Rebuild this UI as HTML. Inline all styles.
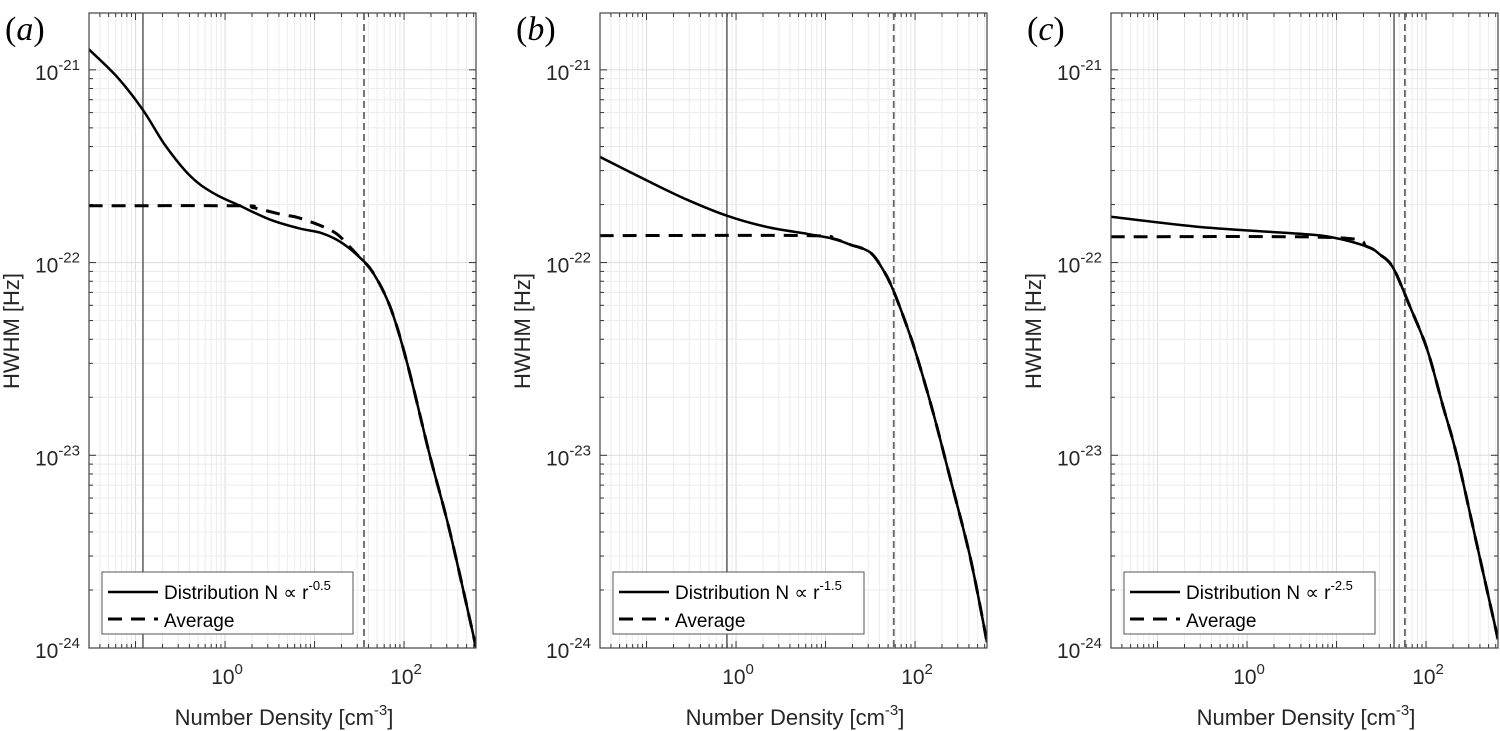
<!DOCTYPE html>
<html><head><meta charset="utf-8">
<style>
html,body{margin:0;padding:0;background:#fff;}
svg{display:block;font-family:"Liberation Sans",Arial,sans-serif;}
</style></head>
<body>
<svg id="fig" width="1500" height="731" viewBox="0 0 1500 731" xmlns="http://www.w3.org/2000/svg"></svg>
<script>
// ---- data (x: number density cm^-3, y: HWHM in units of 1e-22 Hz) ----
const panelLabels = ["(a)", "(b)", "(c)"];
const exponents = ["-0.5", "-1.5", "-2.5"];
const solidVLines = [0.121, 0.79, 43.9];
const dashedVLines = [35.7, 57.8, 58];
const xTickExps = [0, 2];
const yTickExps = [-21, -22, -23, -24];

const aSolidX = [0.030,0.062,0.121,0.213,0.406,0.733,1.47,3.18,6.88,11.5,19.2,32.2,45,69.7,108,195,326,637];
const aSolidY = [12.8,9.2,6.2,4.08,2.82,2.30,1.97,1.67,1.50,1.43,1.285,1.06,0.887,0.592,0.303,0.0989,0.0399,0.0101];
const aAvgX = [0.030,1.47,2.05,4.45,6.88,16.1,25,32.2,45,69.7,108,195,326,637];
const aAvgY = [1.97,1.97,1.93,1.77,1.70,1.45,1.20,1.06,0.887,0.592,0.303,0.0989,0.0399,0.0101];

const bSolidX = [0.030,0.109,0.283,0.79,2.22,6.2,12.1,18.8,31.4,43.9,56.7,81.3,105,159,228,411,637];
const bSolidY = [3.54,2.62,2.12,1.75,1.53,1.41,1.33,1.24,1.13,0.918,0.724,0.466,0.326,0.167,0.0877,0.0299,0.0107];
const bAvgX = [0.030,6.2,12.1,18.8,31.4,43.9,56.7,81.3,105,159,228,411,637];
const bAvgY = [1.38,1.38,1.33,1.24,1.13,0.918,0.724,0.466,0.326,0.167,0.0877,0.0299,0.0107];

const cSolidX = [0.030,0.298,3.9,9.1,21.9,30.6,42.8,66,103,155,222,371,637];
const cSolidY = [1.73,1.53,1.41,1.35,1.21,1.10,0.94,0.592,0.354,0.179,0.0989,0.0342,0.0111];
const cAvgX = [0.030,9.1,21.9,30.6,42.8,66,103,155,222,371,637];
const cAvgY = [1.36,1.35,1.21,1.10,0.94,0.592,0.354,0.179,0.0989,0.0342,0.0111];

const solids = [[aSolidX,aSolidY],[bSolidX,bSolidY],[cSolidX,cSolidY]];
const avgs = [[aAvgX,aAvgY],[bAvgX,bAvgY],[cAvgX,cAvgY]];

// ---- layout ----
const NS = "http://www.w3.org/2000/svg";
const svg = document.getElementById("fig");
const lefts = [89, 600, 1111];
const W = 387, TOP = 13, BOT = 648;
const XLMIN = -1.52, XLMAX = 2.804, YLMIN = -24, YLMAX = -20.705;

function mk(tag, attrs, parent) {
  const e = document.createElementNS(NS, tag);
  for (const k in attrs) e.setAttribute(k, attrs[k]);
  (parent || svg).appendChild(e);
  return e;
}
function xs(p, v) { return lefts[p] + (Math.log10(v) - XLMIN) / (XLMAX - XLMIN) * W; }
function ysLog(l) { return BOT - (l - YLMIN) / (YLMAX - YLMIN) * (BOT - TOP); }
function ys(v) { return ysLog(Math.log10(v * 1e-22)); }

function smoothPath(pts) {
  let d = "M" + pts[0][0].toFixed(1) + "," + pts[0][1].toFixed(1);
  for (let i = 0; i < pts.length - 1; i++) {
    const p0 = pts[Math.max(0, i - 1)], p1 = pts[i], p2 = pts[i + 1], p3 = pts[Math.min(pts.length - 1, i + 2)];
    const c1 = [p1[0] + (p2[0] - p0[0]) / 6, p1[1] + (p2[1] - p0[1]) / 6];
    const c2 = [p2[0] - (p3[0] - p1[0]) / 6, p2[1] - (p3[1] - p1[1]) / 6];
    d += " C" + c1[0].toFixed(1) + "," + c1[1].toFixed(1) + " " + c2[0].toFixed(1) + "," + c2[1].toFixed(1) + " " + p2[0].toFixed(1) + "," + p2[1].toFixed(1);
  }
  return d;
}

for (let p = 0; p < 3; p++) {
  const L = lefts[p], R = L + W;
  const g = mk("g", {});
  
  

  const cp = mk("clipPath", { id: "clip" + p }, g);
  mk("rect", { x: L, y: TOP, width: W, height: BOT - TOP }, cp);

  const grid = mk("g", {}, g);
  
  
  for (let e = -2; e <= 2; e++) {
    for (let m = 1; m <= 9; m++) {
      const v = m * Math.pow(10, e);
      const lv = Math.log10(v);
      if (lv < XLMIN || lv > XLMAX) continue;
      const x = xs(p, v);
      mk("line", { x1: x, x2: x, y1: TOP, y2: BOT, stroke: m === 1 ? "#dcdcdc" : "#ececec", "stroke-width": 1 }, grid);
      const tl = m === 1 ? 7 : 4;
      mk("line", { x1: x, x2: x, y1: BOT, y2: BOT - tl, stroke: "#333", "stroke-width": 1 }, grid);
      mk("line", { x1: x, x2: x, y1: TOP, y2: TOP + tl, stroke: "#333", "stroke-width": 1 }, grid);
    }
  }
  for (let e = -24; e <= -21; e++) {
    for (let m = 1; m <= 9; m++) {
      const lv = e + Math.log10(m);
      if (lv < YLMIN || lv > YLMAX) continue;
      const y = ysLog(lv);
      mk("line", { x1: L, x2: R, y1: y, y2: y, stroke: m === 1 ? "#dcdcdc" : "#ececec", "stroke-width": 1 }, grid);
      const tl = m === 1 ? 7 : 4;
      mk("line", { x1: L, x2: L + tl, y1: y, y2: y, stroke: "#333", "stroke-width": 1 }, grid);
      mk("line", { x1: R, x2: R - tl, y1: y, y2: y, stroke: "#333", "stroke-width": 1 }, grid);
    }
  }

  const vs = mk("line", { x1: xs(p, solidVLines[p]), x2: xs(p, solidVLines[p]), y1: TOP, y2: BOT, stroke: "#666", "stroke-width": 1.6 }, g);
  
  
  const vd = mk("line", { x1: xs(p, dashedVLines[p]), x2: xs(p, dashedVLines[p]), y1: TOP, y2: BOT, stroke: "#666", "stroke-width": 1.8, "stroke-dasharray": "7,4" }, g);
  
  

  const cg = mk("g", { "clip-path": "url(#clip" + p + ")" }, g);
  const avgPts = avgs[p][0].map((x, i) => [xs(p, x), ys(avgs[p][1][i])]);
  const av = mk("path", { d: smoothPath(avgPts), fill: "none", stroke: "#000", "stroke-width": 3, "stroke-dasharray": "14,9" }, cg);
  
  
  const solPts = solids[p][0].map((x, i) => [xs(p, x), ys(solids[p][1][i])]);
  const sl = mk("path", { d: smoothPath(solPts), fill: "none", stroke: "#000", "stroke-width": 2.5 }, cg);
  
  

  const bx = mk("rect", { x: L, y: TOP, width: W, height: BOT - TOP, fill: "none", stroke: "#444", "stroke-width": 1.2 }, g);
  
  

  yTickExps.forEach(e => {
    const t = mk("text", { x: L - 9, y: ysLog(e) + 10, "text-anchor": "end", "font-size": 21, fill: "#262626" }, g);
    
    
    t.innerHTML = '10<tspan dy="-10" font-size="15">' + e + '</tspan>';
  });
  xTickExps.forEach(e => {
    const t = mk("text", { x: xs(p, Math.pow(10, e)) + 2, y: 684, "text-anchor": "middle", "font-size": 21, fill: "#262626" }, g);
    
    
    t.innerHTML = '10<tspan dy="-10" font-size="15">' + e + '</tspan>';
  });

  const xt = mk("text", { x: L + 195, y: 725, "text-anchor": "middle", "font-size": 22, fill: "#262626" }, g);
  
  
  xt.innerHTML = 'Number Density [cm<tspan dy="-10" font-size="15">-3</tspan><tspan dy="10">]</tspan>';
  const yt = mk("text", { x: 0, y: 0, "text-anchor": "middle", "font-size": 22, fill: "#262626", transform: "translate(" + (L - 70) + ",331) rotate(-90)" }, g);
  
  
  yt.textContent = "HWHM [Hz]";

  const pl = mk("text", { x: L - 84, y: 40, "font-size": 34, "font-style": "italic", fill: "#000", "font-family": '"Liberation Serif", serif' }, g);
  
  
  pl.innerHTML = '<tspan font-style="normal">(</tspan>' + "abc"[p] + '<tspan font-style="normal">)</tspan>';

  const lg = mk("g", {}, g);
  
  
  mk("rect", { x: L + 13, y: 572, width: 251, height: 62, fill: "#fff", stroke: "#555", "stroke-width": 1 }, lg);
  mk("line", { x1: L + 19, x2: L + 69, y1: 592, y2: 592, stroke: "#000", "stroke-width": 2.5 }, lg);
  mk("line", { x1: L + 19, x2: L + 69, y1: 619, y2: 619, stroke: "#000", "stroke-width": 3, "stroke-dasharray": "14,9" }, lg);
  const t1 = mk("text", { x: L + 75, y: 599, "font-size": 19, fill: "#000" }, lg);
  
  
  t1.innerHTML = 'Distribution N ∝ r<tspan dy="-9" font-size="13">' + exponents[p] + '</tspan>';
  const t2 = mk("text", { x: L + 75, y: 627, "font-size": 19, fill: "#000" }, lg);
  
  
  t2.textContent = "Average";
}
</script>
</body></html>
